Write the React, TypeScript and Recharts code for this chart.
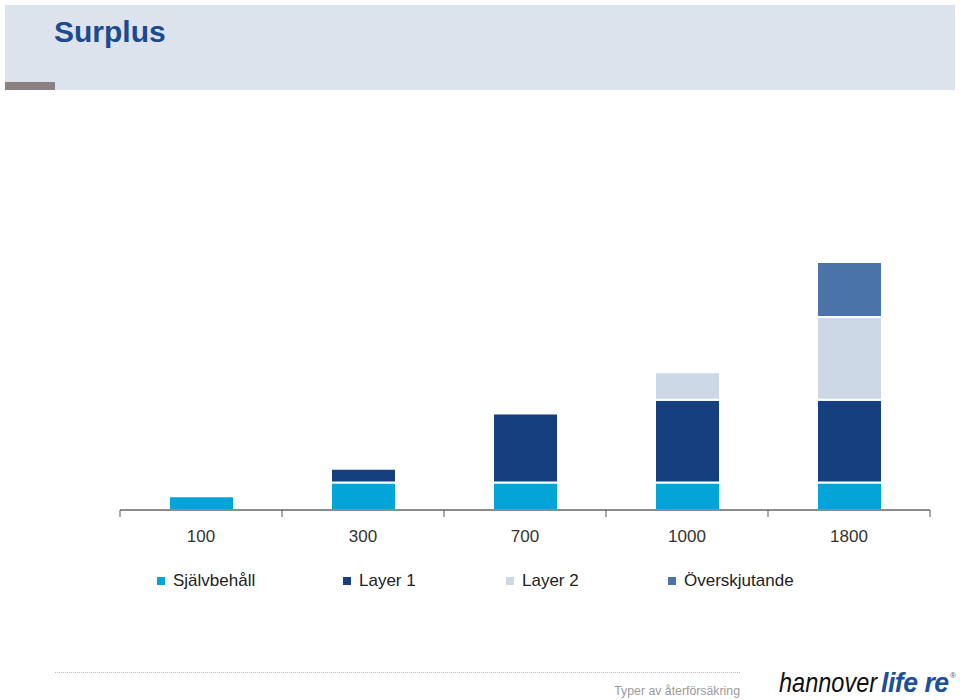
import { BarChart, Bar, XAxis, YAxis, Legend } from "recharts"

const categories = ["100", "300", "700", "1000", "1800"]
const sjalvbehall = [100, 200, 200, 200, 200]
const layer1 = [0, 100, 500, 600, 600]
const layer2 = [0, 0, 0, 200, 600]
const overskjutande = [0, 0, 0, 0, 400]

const seriesNames = ["Självbehåll", "Layer 1", "Layer 2", "Överskjutande"]
const seriesColors = ["#03a4d8", "#163f80", "#cdd8e6", "#4a73a9"]
const legendLeft = [37, 223, 386, 548]

const data = categories.map((c, i) => ({
  cat: c,
  s0: sjalvbehall[i],
  s1: layer1[i],
  s2: layer2[i],
  s3: overskjutande[i],
}))

const FONT = "'Liberation Sans', Arial, Helvetica, sans-serif"
const BAND = 162

function CategoryTick(props: any) {
  const { x, y, payload, index } = props
  const last = index === categories.length - 1
  return (
    <g>
      <line x1={x - BAND / 2} y1={y - 8} x2={x - BAND / 2} y2={y - 1} stroke="#555" strokeWidth={1} />
      {last && <line x1={x + BAND / 2} y1={y - 8} x2={x + BAND / 2} y2={y - 1} stroke="#555" strokeWidth={1} />}
      <text x={x} y={y + 24} textAnchor="middle" fontSize={17} fill="#333" fontFamily={FONT}>
        {payload.value}
      </text>
    </g>
  )
}

function SimpleLegend() {
  return (
    <div style={{ position: "relative", height: 24, fontFamily: FONT }}>
      {seriesNames.map((name, i) => (
        <div
          key={name}
          style={{ position: "absolute", left: legendLeft[i], top: 0, display: "flex", alignItems: "center", fontSize: 17, color: "#222" }}
        >
          <span style={{ display: "inline-block", width: 8, height: 8, background: seriesColors[i], marginRight: 8 }} />
          {name}
        </div>
      ))}
    </div>
  )
}

export default function App() {
  return (
    <div style={{ position: "absolute", left: 0, top: 0, width: 960, height: 700, background: "#fff", fontFamily: FONT, overflow: "hidden" }}>
      <div style={{ position: "absolute", left: 5, top: 5, width: 950, height: 85, background: "#dde3ed" }} />
      <div style={{ position: "absolute", left: 5, top: 82, width: 50, height: 8, background: "#8b8082" }} />
      <div style={{ position: "absolute", left: 54, top: 15, fontSize: 30, fontWeight: "bold", color: "#1a4b91" }}>Surplus</div>

      <div style={{ position: "absolute", left: 0, top: 0 }}>
        <BarChart
          width={960}
          height={700}
          data={data}
          margin={{ top: 262, right: 30, left: 120, bottom: 66 }}
          barSize={65}
        >
          <XAxis
            dataKey="cat"
            height={100}
            axisLine={{ stroke: "#666", strokeWidth: 1.5 }}
            tickLine={false}
            tick={<CategoryTick />}
            interval={0}
          />
          <YAxis hide domain={[0, 1800]} />
          <Legend
            verticalAlign="bottom"
            align="left"
            wrapperStyle={{ left: 120, top: 571, width: 810 }}
            content={() => <SimpleLegend />}
          />
          <Bar dataKey="s0" name={seriesNames[0]} stackId="a" fill={seriesColors[0]} stroke="#fff" strokeWidth={2} isAnimationActive={false} />
          <Bar dataKey="s1" name={seriesNames[1]} stackId="a" fill={seriesColors[1]} stroke="#fff" strokeWidth={2} isAnimationActive={false} />
          <Bar dataKey="s2" name={seriesNames[2]} stackId="a" fill={seriesColors[2]} stroke="#fff" strokeWidth={2} isAnimationActive={false} />
          <Bar dataKey="s3" name={seriesNames[3]} stackId="a" fill={seriesColors[3]} stroke="#fff" strokeWidth={2} isAnimationActive={false} />
        </BarChart>
      </div>

      <div style={{ position: "absolute", left: 55, top: 672, width: 685, borderTop: "1px dotted #bbb" }} />
      <div style={{ position: "absolute", right: 220, top: 684, fontSize: 12.3, color: "#9a9a9a" }}>Typer av återförsäkring</div>
      <div
        style={{
          position: "absolute", left: 779, top: 667, fontSize: 28, fontStyle: "italic", whiteSpace: "nowrap",
          color: "#111", fontWeight: 300, transform: "scaleX(0.84)", transformOrigin: "left top",
        }}
      >
        hannover
      </div>
      <div
        style={{
          position: "absolute", left: 881, top: 667, fontSize: 28, fontStyle: "italic", fontWeight: "bold", whiteSpace: "nowrap",
          color: "#1a4f9c", transform: "scaleX(0.95)", transformOrigin: "left top", letterSpacing: -0.5,
        }}
      >
        life re
      </div>
      <div style={{ position: "absolute", left: 950, top: 671, fontSize: 8, color: "#555" }}>®</div>
    </div>
  )
}
